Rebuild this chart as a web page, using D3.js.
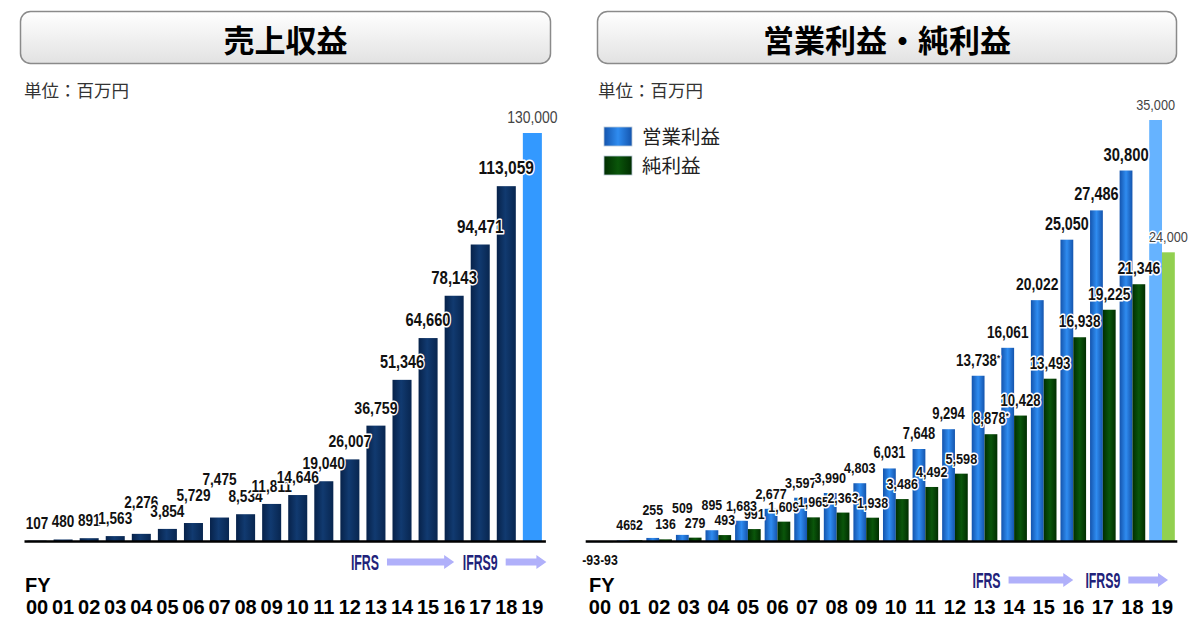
<!DOCTYPE html>
<html><head><meta charset="utf-8">
<script src="https://cdn.jsdelivr.net/npm/d3@7"></script>
<style>
body{margin:0;background:#fff;}
svg{display:block;}
</style></head><body>
<svg id="c" width="1200" height="618"></svg>
<script>
// ---------------- data ----------------
const fiscalYears = ["00","01","02","03","04","05","06","07","08","09","10","11","12","13","14","15","16","17","18","19"];
const revenue = [107,480,891,1563,2276,3854,5729,7475,8534,11811,14646,19040,26007,36759,51346,64660,78143,94471,113059,130000];
const operatingProfit = [-93,46,255,509,895,1683,2677,3597,3990,4803,6031,7648,9294,13738,16061,20022,25050,27486,30800,35000];
const netProfit = [-93,62,136,279,493,991,1609,1965,2363,1938,3486,4492,5598,8878,10428,13493,16938,19225,21346,24000];
const forecastYear = "19";
const footnoteYears = ["13"];
const revenueTitle = "売上収益";
const profitTitle = "営業利益・純利益";
const unitLabel = "単位：百万円";
const seriesNames = ["営業利益","純利益"];
const fyLabel = "FY";
const ifrsMarks = [{label:"IFRS", from:"13", to:"16"},{label:"IFRS9", from:"17", to:"19"}];

// ---------------- setup ----------------
const NUM = '"Liberation Sans",Arial,sans-serif';
const SANS = '"Liberation Sans",Arial,sans-serif';
const CJK = '"Noto Sans CJK JP","Noto Sans CJK SC",sans-serif';
const NARROW = 0.82;
const fmt = d3.formatLocale({decimal:".",thousands:",",grouping:[3],currency:["",""],minus:"-"}).format(",");
const svg = d3.select("#c");
const defs = svg.append("defs");
function hGrad(id, stops){
  const g = defs.append("linearGradient").attr("id",id).attr("x1",0).attr("x2",1).attr("y1",0).attr("y2",0);
  stops.forEach(([o,c])=>g.append("stop").attr("offset",o).attr("stop-color",c));
}
hGrad("navy",[[0,"#07224a"],[0.45,"#113a70"],[1,"#082650"]]);
hGrad("blue",[[0,"#1454ad"],[0.5,"#2f8cf0"],[1,"#1454ad"]]);
hGrad("green",[[0,"#012e01"],[0.5,"#0a560a"],[1,"#012e01"]]);
const tg = defs.append("linearGradient").attr("id","titleG").attr("x1",0).attr("x2",0).attr("y1",0).attr("y2",1);
tg.append("stop").attr("offset",0).attr("stop-color","#ffffff");
tg.append("stop").attr("offset",1).attr("stop-color","#e2e2e2");

function narrow(t, f){
  const w = t.node().getComputedTextLength();
  t.attr("textLength", w*f).attr("lengthAdjust","spacingAndGlyphs");
  return w*f;
}

function titleBox(x, w, text){
  svg.append("rect").attr("x",x).attr("y",11.5).attr("width",w).attr("height",52).attr("rx",10)
    .attr("fill","url(#titleG)").attr("stroke","#8a8a8a").attr("stroke-width",1.5);
  svg.append("text").attr("x",x+w/2).attr("y",38).attr("text-anchor","middle").attr("dominant-baseline","central")
    .attr("font-family",CJK).attr("font-weight","bold").attr("font-size",31).attr("fill","#000").text(text);
}
titleBox(20.5, 530, revenueTitle);
titleBox(597.5, 579, profitTitle);

[[24,unitLabel],[598,unitLabel]].forEach(([x,t])=>{
  svg.append("text").attr("x",x).attr("y",97).attr("font-family",CJK).attr("font-size",17.5).attr("fill","#333").text(t);
});

const BASE = 541;

// label placement with collision avoidance
function placeLabels(g, items){
  const placed = [];
  items.forEach(it=>{
    const t = g.append("text").attr("font-family",NUM).attr("font-size",it.size)
      .attr("font-weight", it.forecast ? "normal" : "bold")
      .attr("fill", it.forecast ? "#444" : "#111")
      .attr("stroke","#fff").attr("stroke-width",3).attr("stroke-linejoin","round").attr("paint-order","stroke")
      .attr("text-anchor", it.anchor || "middle").text(it.text);
    if(it.note){ t.append("tspan").attr("font-size",it.size*0.6).attr("dy",-it.size*0.3).text(it.note); }
    t.attr("x",it.x);
    const w = narrow(t, NARROW);
    const h = it.size*0.72;
    let x0 = it.anchor==="end" ? it.x - w : it.anchor==="start" ? it.x : it.x - w/2;
    let y = it.y;
    if(!it.free){
      let moved = true, guard = 0;
      while(moved && guard++ < 20){
        moved = false;
        for(const p of placed){
          const ho = Math.min(x0+w, p.x0+p.w) - Math.max(x0, p.x0);
          const vo = Math.min(y, p.y) - Math.max(y-h, p.y-p.h);
          if(ho > 4 && vo > 5){ y = p.y - p.h - 4; moved = true; }
        }
      }
      placed.push({x0,w,y,h});
    }
    t.attr("y",y);
  });
}

function drawAxis(x){
  const ax = svg.append("g").attr("transform",`translate(0,${BASE})`)
    .call(d3.axisBottom(x).tickSize(0).tickSizeOuter(0).tickPadding(59));
  ax.select(".domain").attr("stroke","#000").attr("stroke-width",2.5);
  ax.selectAll("text").attr("font-family",SANS).attr("font-weight","bold").attr("font-size",20).attr("fill","#000");
}

function ifrsAnnot(x, y0, textDx, endX){
  const g = svg.append("g");
  ifrsMarks.forEach((m,i)=>{
    const cx = x(m.from) + x.bandwidth()/2 + (i===0 ? textDx : 0);
    const t = g.append("text").attr("x",cx).attr("y",y0+7.5).attr("text-anchor","middle")
      .attr("font-family",NUM).attr("font-weight","bold").attr("font-size",22).attr("fill","#22227a").text(m.label);
    const w = narrow(t, 0.56);
    const a0 = cx + w/2 + 8;
    const a1 = i===ifrsMarks.length-1 ? endX : x(m.to) + x.bandwidth()/2;
    const hw = 3.5, hh = 7, hl = 10;
    g.append("path").attr("fill","#b0b0fa")
      .attr("d",`M${a0},${y0-hw}H${a1-hl}V${y0-hh}L${a1},${y0}L${a1-hl},${y0+hh}V${y0+hw}H${a0}Z`);
  });
}

// ---------------- left chart ----------------
{
  const x = d3.scaleBand().domain(fiscalYears).range([24,545.4]).paddingInner(0.27).paddingOuter(0.135);
  const y = d3.scaleLinear().domain([0,130000]).range([BASE,133]);
  const data = fiscalYears.map((fy,i)=>({fy, v:revenue[i]}));
  svg.append("g").selectAll("rect").data(data).join("rect")
    .attr("x",d=>x(d.fy)).attr("width",x.bandwidth())
    .attr("y",d=>Math.min(y(d.v),y(0))).attr("height",d=>Math.abs(y(d.v)-y(0)))
    .attr("fill",d=>d.fy===forecastYear ? "#3399ff" : "url(#navy)");
  drawAxis(x);
  const fsz = d3.scaleLinear().domain([0,113059]).range([16.5,19]).clamp(true);
  placeLabels(svg.append("g"), data.map(d=>({
    text: fmt(d.v), x: x(d.fy)+x.bandwidth()/2, y: y(d.v) - (d.fy===forecastYear ? 10 : 12),
    size: d.fy===forecastYear ? 17 : fsz(d.v), forecast: d.fy===forecastYear
  })));
  svg.append("text").attr("x",25).attr("y",592).attr("font-family",SANS).attr("font-weight","bold").attr("font-size",20).text(fyLabel);
  ifrsAnnot(x, 562, -11, x.range()[1]+1);
}

// ---------------- right chart ----------------
{
  const x = d3.scaleBand().domain(fiscalYears).range([585.2,1176.8]).paddingInner(0.134).paddingOuter(0.067);
  const xs = d3.scaleBand().domain(["op","net"]).range([0,x.bandwidth()]);
  const y = d3.scaleLinear().domain([0,35000]).range([BASE,120]);
  const data = fiscalYears.map((fy,i)=>({fy, op:operatingProfit[i], net:netProfit[i]}));
  const colors = {op:"url(#blue)", net:"url(#green)"};
  const fcColors = {op:"#66b3ff", net:"#92d050"};
  const groups = svg.append("g").selectAll("g").data(data).join("g").attr("transform",d=>`translate(${x(d.fy)},0)`);
  groups.selectAll("rect").data(d=>["op","net"].map(k=>({k, v:d[k], fy:d.fy}))).join("rect")
    .attr("x",d=>xs(d.k)).attr("width",xs.bandwidth())
    .attr("y",d=>Math.min(y(d.v),y(0))).attr("height",d=>Math.max(1,Math.abs(y(d.v)-y(0))))
    .attr("fill",d=>d.fy===forecastYear ? fcColors[d.k] : colors[d.k]);
  drawAxis(x);
  const fsz = d3.scaleLinear().domain([0,30800]).range([15,18]).clamp(true);
  const items = [];
  data.forEach(d=>{
    const fc = d.fy===forecastYear;
    ["net","op"].forEach(k=>{
      const v = d[k];
      const cx = x(d.fy) + xs(k) + xs.bandwidth()/2;
      const size = fc ? 15.5 : fsz(Math.abs(v));
      if(v < 0){
        items.push({text:fmt(v), x:x(d.fy)+x.bandwidth()/2, anchor: k==="op" ? "end" : "start",
          y: y(v)+size*0.72+12, size, free:true});
      } else {
        items.push({text:fmt(v), x:cx, y:y(v)-10, size, forecast:fc,
          note: footnoteYears.includes(d.fy) ? "*" : null});
      }
    });
  });
  placeLabels(svg.append("g"), items);
  svg.append("text").attr("x",589).attr("y",592).attr("font-family",SANS).attr("font-weight","bold").attr("font-size",20).text(fyLabel);
  ifrsAnnot(x, 580, 2, x(forecastYear)+x.bandwidth()/2+6);

  // legend
  const lg = svg.append("g");
  seriesNames.forEach((n,i)=>{
    lg.append("rect").attr("x",604).attr("y",127+i*29).attr("width",28).attr("height",19)
      .attr("fill", i===0 ? "url(#blue)" : "url(#green)").attr("stroke","#b8c8d8").attr("stroke-width",0.8);
    lg.append("text").attr("x",642).attr("y",143.5+i*29).attr("font-family",CJK).attr("font-size",19.5).attr("fill","#222").text(n);
  });
}
</script>
</body></html>
